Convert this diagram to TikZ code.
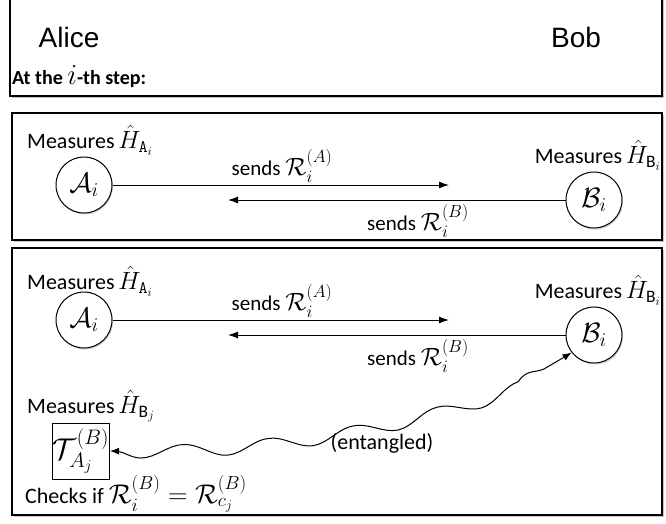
\RequirePackage{fix-cm}
\documentclass[tikz,border=0pt]{standalone}
\usepackage{amsmath}
\usepackage{fontspec}
\setmainfont{Carlito}
\newfontfamily\namefont{Liberation Sans}
\usetikzlibrary{arrows.meta,decorations.pathmorphing,positioning,shadows}

\newcommand{\sizedmath}[2]{{\fontsize{#1}{#1}\selectfont$#2$}}

\tikzset{
    panel/.style={draw,line width=1.1pt,fill=white,
        drop shadow={shadow xshift=1.5pt,shadow yshift=-2pt,opacity=.45}},
    player/.style={font=\namefont\fontsize{28}{32}\selectfont,inner sep=0pt},
    txt/.style={font=\fontsize{22}{26}\selectfont,inner sep=0pt},
    sendtxt/.style={font=\fontsize{21}{24}\selectfont,inner sep=0pt},
    party/.style={circle,draw,line width=1pt,fill=white,minimum size=56pt,
        inner sep=0pt,font=\fontsize{28}{32}\selectfont,
        drop shadow={shadow xshift=1pt,shadow yshift=-1.5pt,opacity=.35}},
    tablet/.style={draw,line width=1pt,fill=white,minimum width=57pt,
        minimum height=56pt,inner sep=0pt,font=\fontsize{30}{34}\selectfont},
    msg/.style={-{Latex[length=10pt,width=7pt]},line width=1pt},
    entangle/.style={{Latex[length=9pt,width=7pt]}-{Latex[length=9pt,width=7pt]},
        line width=1pt,decorate,
        decoration={snake,amplitude=6.5pt,segment length=86pt,mirror,
            pre length=4pt,post length=6pt}},
}

\begin{document}
\begin{tikzpicture}[x=1pt,y=1pt]
    \useasboundingbox (0,0) rectangle (666,-523);

    % the three frames
    \draw[panel] (10,4) rectangle (662,-96);
    \draw[panel] (12,-113) rectangle (662,-240);
    \draw[panel] (12,-248) rectangle (662,-515);

    % header
    \node[player] (alice) at (69,-37) {Alice};
    \node[player] (bob) at (576,-37) {Bob};
    \node[anchor=west,inner sep=0pt,font=\bfseries\fontsize{20}{24}\selectfont] (step) at (12,-77)
        {At the {\fontsize{29}{32}\selectfont$i$}-th step:};

    % honest round
    \node[txt,anchor=west] (measA1) at (27,-140) {Measures\,\sizedmath{25}{\hat{H}_{\mathtt{A}_i}}};
    \node[party] (A1) at (84,-185) {$\mathcal{A}_i$};
    \node[txt,anchor=east] (measB1) at (661,-155) {Measures\,\sizedmath{25}{\hat{H}_{\mathrm{B}_i}}};
    \node[party] (B1) at (594,-200) {$\mathcal{B}_i$};
    \coordinate (toB1) at (449,-185);
    \coordinate (toA1) at (228,-200);
    \draw[msg] (A1) -- (toB1);
    \draw[msg] (B1) -- (toA1);
    \node[sendtxt] (sendA1) at (282,-166) {sends \sizedmath{25}{\mathcal{R}_i^{(A)}}};
    \node[sendtxt] (sendB1) at (418,-221) {sends \sizedmath{25}{\mathcal{R}_i^{(B)}}};

    % round with the test
    \node[txt,anchor=west] (measA2) at (27,-281) {Measures\,\sizedmath{25}{\hat{H}_{\mathtt{A}_i}}};
    \node[party] (A2) at (84,-320) {$\mathcal{A}_i$};
    \node[txt,anchor=east] (measB2) at (661,-290) {Measures\,\sizedmath{25}{\hat{H}_{\mathrm{B}_i}}};
    \node[party] (B2) at (594,-335) {$\mathcal{B}_i$};
    \coordinate (toB2) at (449,-320);
    \coordinate (toA2) at (228,-335);
    \draw[msg] (A2) -- (toB2);
    \draw[msg] (B2) -- (toA2);
    \node[sendtxt] (sendA2) at (282,-301) {sends \sizedmath{25}{\mathcal{R}_i^{(A)}}};
    \node[sendtxt] (sendB2) at (418,-356) {sends \sizedmath{25}{\mathcal{R}_i^{(B)}}};

    \node[txt,anchor=west] (measT) at (27,-406) {Measures\,\sizedmath{25}{\hat{H}_{\mathrm{B}_j}}};
    \node[tablet] (T) at (81,-451) {$\mathcal{T}_{A_j}^{(B)}$};
    \node[txt,anchor=west] (check) at (25,-494)
        {Checks if \sizedmath{27}{\mathcal{R}_i^{(B)}=\mathcal{R}_{c_j}^{(B)}}};
    \draw[entangle] (T.east) .. controls (300,-455) and (500,-400) .. (B2.218);
    \node[txt] (ent) at (382,-443) {(entangled)};
\end{tikzpicture}
\end{document}
